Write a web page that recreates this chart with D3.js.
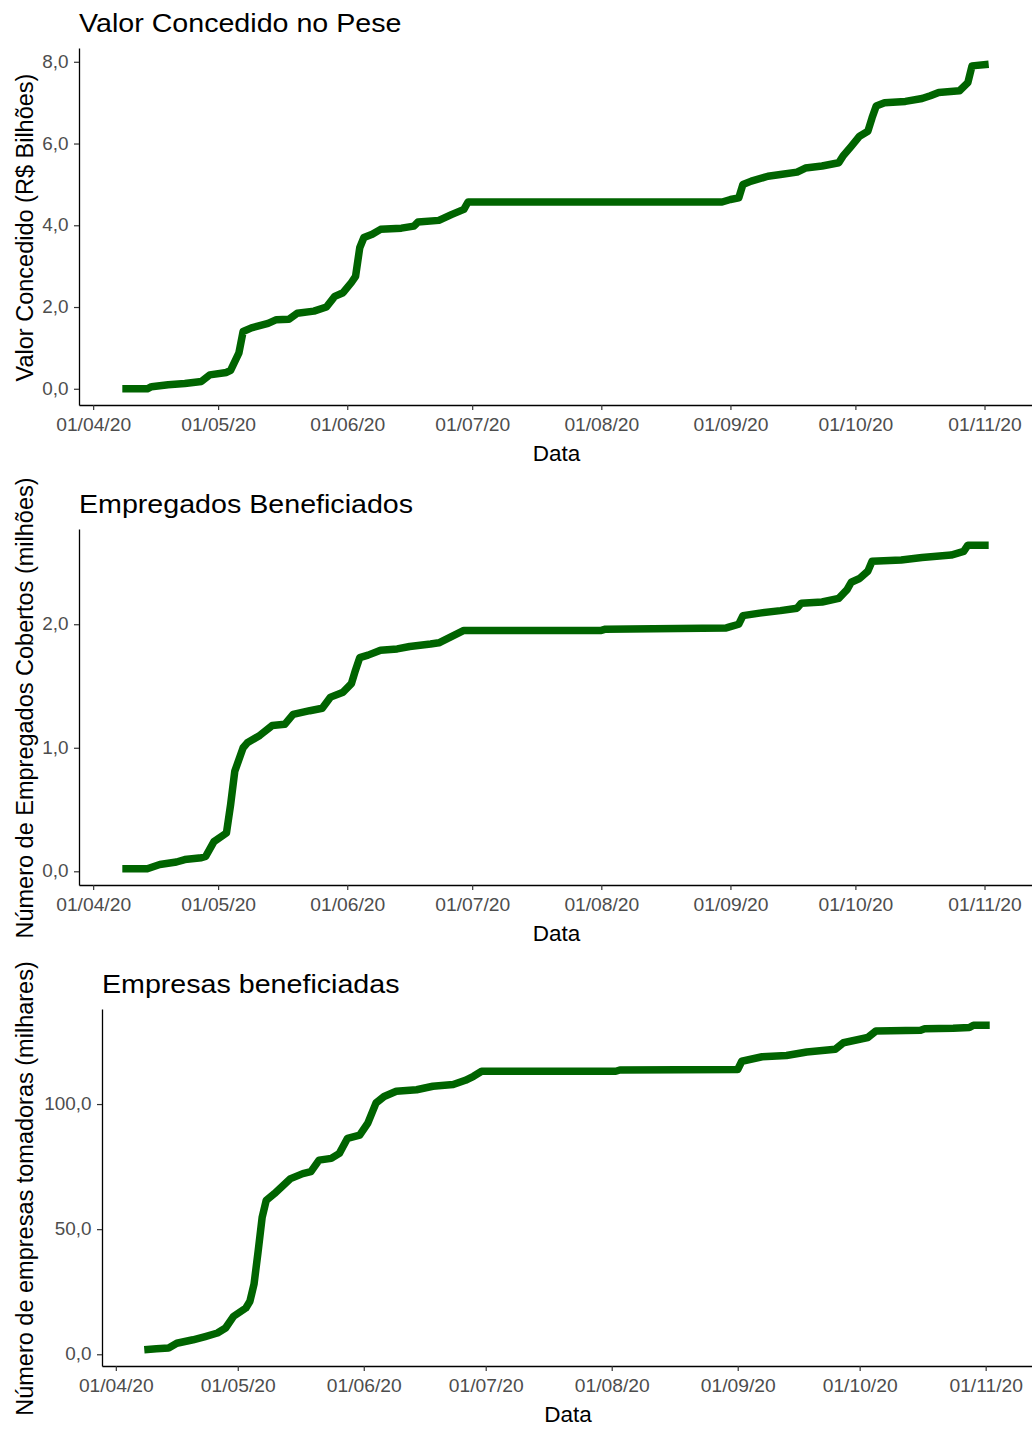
<!DOCTYPE html>
<html>
<head>
<meta charset="utf-8">
<script src="https://cdn.jsdelivr.net/npm/d3@7"></script>
<style>
  html, body { margin: 0; padding: 0; background: #ffffff; }
  svg { display: block; }
  text { font-family: "Liberation Sans", Arial, sans-serif; }
</style>
</head>
<body>
<svg id="chart" width="1032" height="1429"></svg>
<script>
// ---------- DATA ----------
const valorDates = ["2020-04-08","2020-04-14","2020-04-15","2020-04-19","2020-04-23","2020-04-27","2020-04-29","2020-05-03","2020-05-04","2020-05-06","2020-05-07","2020-05-09","2020-05-13","2020-05-15","2020-05-18","2020-05-20","2020-05-24","2020-05-27","2020-05-29","2020-05-31","2020-06-02","2020-06-03","2020-06-04","2020-06-05","2020-06-07","2020-06-09","2020-06-14","2020-06-17","2020-06-18","2020-06-23","2020-06-26","2020-06-29","2020-06-30","2020-08-30","2020-09-01","2020-09-03","2020-09-04","2020-09-06","2020-09-10","2020-09-13","2020-09-17","2020-09-19","2020-09-23","2020-09-27","2020-09-28","2020-09-30","2020-10-02","2020-10-04","2020-10-05","2020-10-06","2020-10-08","2020-10-13","2020-10-17","2020-10-19","2020-10-21","2020-10-26","2020-10-28","2020-10-29","2020-11-02"];
const valorValues = [0.00,0.00,0.05,0.10,0.13,0.18,0.34,0.40,0.45,0.88,1.40,1.49,1.60,1.69,1.70,1.85,1.90,2.00,2.26,2.35,2.60,2.75,3.45,3.70,3.78,3.90,3.93,3.98,4.08,4.12,4.26,4.39,4.57,4.57,4.63,4.67,5.00,5.08,5.20,5.24,5.30,5.40,5.45,5.53,5.69,5.93,6.18,6.30,6.63,6.92,7.00,7.03,7.10,7.17,7.25,7.29,7.49,7.90,7.94];

const empregadosDates = ["2020-04-08","2020-04-14","2020-04-17","2020-04-21","2020-04-23","2020-04-27","2020-04-28","2020-04-30","2020-05-03","2020-05-04","2020-05-05","2020-05-07","2020-05-08","2020-05-11","2020-05-14","2020-05-17","2020-05-19","2020-05-23","2020-05-26","2020-05-28","2020-05-31","2020-06-02","2020-06-03","2020-06-04","2020-06-06","2020-06-09","2020-06-13","2020-06-16","2020-06-21","2020-06-23","2020-06-26","2020-06-29","2020-08-01","2020-08-02","2020-08-31","2020-09-01","2020-09-03","2020-09-04","2020-09-08","2020-09-13","2020-09-17","2020-09-18","2020-09-23","2020-09-27","2020-09-29","2020-09-30","2020-10-02","2020-10-04","2020-10-05","2020-10-12","2020-10-17","2020-10-24","2020-10-27","2020-10-28","2020-11-02"];
const empregadosValues = [0.02,0.02,0.055,0.075,0.095,0.11,0.12,0.24,0.31,0.54,0.81,1.00,1.04,1.10,1.18,1.19,1.27,1.30,1.32,1.41,1.45,1.52,1.63,1.73,1.75,1.79,1.80,1.82,1.84,1.85,1.90,1.95,1.95,1.96,1.97,1.98,2.00,2.07,2.09,2.11,2.13,2.17,2.18,2.21,2.28,2.34,2.37,2.43,2.51,2.52,2.54,2.56,2.59,2.64,2.64];

const empresasDates = ["2020-04-08","2020-04-11","2020-04-14","2020-04-16","2020-04-20","2020-04-23","2020-04-26","2020-04-28","2020-04-30","2020-05-03","2020-05-04","2020-05-05","2020-05-06","2020-05-07","2020-05-08","2020-05-10","2020-05-14","2020-05-17","2020-05-19","2020-05-21","2020-05-24","2020-05-26","2020-05-28","2020-05-31","2020-06-02","2020-06-04","2020-06-06","2020-06-09","2020-06-14","2020-06-18","2020-06-23","2020-06-26","2020-06-28","2020-06-30","2020-08-02","2020-08-03","2020-09-01","2020-09-02","2020-09-07","2020-09-13","2020-09-18","2020-09-25","2020-09-27","2020-10-03","2020-10-05","2020-10-16","2020-10-17","2020-10-24","2020-10-28","2020-10-29","2020-11-02"];
const empresasValues = [1.8,2.2,2.5,4.4,5.8,7.1,8.5,10.5,15.2,18.5,21.2,28,41,54.7,61.5,64.2,70.2,72.2,73,77.6,78.3,80.3,86.3,87.6,92.4,100.4,103,105.1,105.7,107.1,107.8,109.5,111.1,113.1,113.1,113.6,113.8,117.1,118.9,119.4,120.8,121.9,124.5,126.6,129.2,129.5,130.1,130.3,130.6,131.5,131.5];

const titles = ["Valor Concedido no Pese", "Empregados Beneficiados", "Empresas beneficiadas"];
const yTitles = ["Valor Concedido (R$ Bilhões)", "Número de Empregados Cobertos (milhões)", "Número de empresas tomadoras (milhares)"];
const xTitle = "Data";
const yTicks1 = [0, 2, 4, 6, 8];
const yTicks2 = [0, 1, 2];
const yTicks3 = [0, 50, 100];

// ---------- DRAW ----------
const svg = d3.select("#chart");
const parse = d3.timeParse("%Y-%m-%d");
const ptLocale = d3.formatLocale({decimal: ",", thousands: ".", grouping: [3], currency: ["R$", ""]});
const fmt1 = ptLocale.format(".1f");
const dateFmt = d3.timeFormat("%d/%m/%y");
const FONT = "'Liberation Sans', Arial, sans-serif";

const panels = [
  {dates: valorDates, values: valorValues, title: titles[0], yTitle: yTitles[0], ticks: yTicks1,
   left: 79, right: 1032, top: 48, bottom: 405, titleY: 32, xTitleY: 461},
  {dates: empregadosDates, values: empregadosValues, title: titles[1], yTitle: yTitles[1], ticks: yTicks2,
   left: 79, right: 1032, top: 529, bottom: 885, titleY: 513, xTitleY: 941},
  {dates: empresasDates, values: empresasValues, title: titles[2], yTitle: yTitles[2], ticks: yTicks3,
   left: 102, right: 1032, top: 1009, bottom: 1366, titleY: 993, xTitleY: 1422}
];

panels.forEach(p => {
  const data = p.dates.map((d, i) => ({date: parse(d), value: p.values[i]}));
  const xExt = d3.extent(data, d => d.date);
  const xPad = (xExt[1] - xExt[0]) * 0.05;
  const x = d3.scaleTime()
    .domain([new Date(+xExt[0] - xPad), new Date(+xExt[1] + xPad)])
    .range([p.left, p.right]);
  const yExt = d3.extent(data, d => d.value);
  const yPad = (yExt[1] - yExt[0]) * 0.05;
  const y = d3.scaleLinear()
    .domain([yExt[0] - yPad, yExt[1] + yPad])
    .range([p.bottom, p.top]);

  const g = svg.append("g");

  // x axis
  const xAxis = g.append("g")
    .attr("transform", `translate(0,${p.bottom})`)
    .call(d3.axisBottom(x).ticks(d3.timeMonth.every(1)).tickFormat(dateFmt).tickSize(5).tickSizeOuter(0).tickPadding(9));
  xAxis.select(".domain").attr("stroke", "#000").attr("stroke-width", 1.3);
  xAxis.selectAll(".tick line").attr("stroke", "#333").attr("stroke-width", 1.2);
  xAxis.selectAll(".tick text").attr("fill", "#4d4d4d").attr("font-size", 17.5)
    .attr("font-family", FONT)
    .attr("transform", "scale(1.1,1)");

  // y axis
  const yAxis = g.append("g")
    .attr("transform", `translate(${p.left},0)`)
    .call(d3.axisLeft(y).tickValues(p.ticks).tickFormat(fmt1).tickSize(5).tickSizeOuter(0).tickPadding(5));
  yAxis.select(".domain").attr("stroke", "#000").attr("stroke-width", 1.3);
  yAxis.selectAll(".tick line").attr("stroke", "#333").attr("stroke-width", 1.2);
  yAxis.selectAll(".tick text").attr("fill", "#4d4d4d").attr("font-size", 17.5)
    .attr("font-family", FONT)
    .attr("x", -10.5 / 1.08)
    .attr("transform", "scale(1.08,1)");

  // line
  const line = d3.line().x(d => x(d.date)).y(d => y(d.value));
  g.append("path")
    .datum(data)
    .attr("d", line)
    .attr("fill", "none")
    .attr("stroke", "#006400")
    .attr("stroke-width", 7.5)
    .attr("stroke-linejoin", "round")
    .attr("stroke-linecap", "butt");

  // title
  g.append("text")
    .attr("transform", `translate(${p.left},${p.titleY}) scale(1.08,1)`)
    .attr("font-size", 26.5).attr("fill", "#000")
    .text(p.title);

  // x axis title
  g.append("text")
    .attr("x", (p.left + p.right) / 2 + 1).attr("y", p.xTitleY)
    .attr("text-anchor", "middle").attr("font-size", 22.5).attr("fill", "#000")
    .text(xTitle);

  // y axis title
  g.append("text")
    .attr("transform", `translate(32.5,${(p.top + p.bottom) / 2 + 1}) rotate(-90)`)
    .attr("text-anchor", "middle").attr("font-size", 23.5).attr("fill", "#000")
    .text(p.yTitle);
});
</script>
</body>
</html>
